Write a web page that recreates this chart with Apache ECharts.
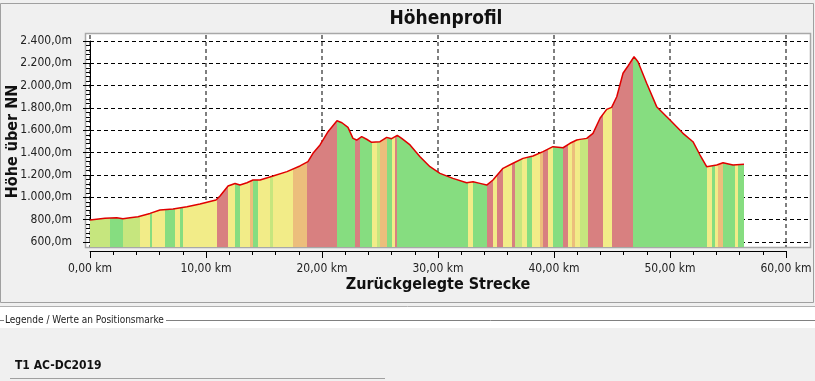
<!DOCTYPE html>
<html><head><meta charset="utf-8">
<script src="https://cdn.jsdelivr.net/npm/echarts@6/dist/echarts.min.js"></script>
<style>html,body{margin:0;padding:0;background:#f0f0f0;}#c{width:815px;height:381px;}</style>
</head><body><div id="c"></div>
<script>
// Distance along track (km) and elevation (m)
const distKm = [0.0,1.29,2.30,2.84,3.45,4.14,5.17,6.03,7.16,8.36,9.48,10.86,11.21,11.90,12.50,12.93,13.53,14.05,14.66,15.78,16.98,18.10,18.79,19.22,19.83,20.52,21.29,21.72,22.24,22.67,22.99,23.42,23.85,24.28,25.00,25.58,26.00,26.49,26.87,27.59,28.45,29.31,30.17,31.29,32.47,33.02,33.62,34.20,34.74,35.60,36.47,37.33,38.19,39.05,39.91,40.78,41.38,41.96,42.24,42.82,43.36,43.97,44.54,44.97,45.41,45.95,46.38,46.90,47.24,47.99,48.85,50.00,51.12,51.98,52.59,53.16,54.03,54.57,55.43,56.38];
const elevM = [797,812,818,809,818,827,856,887,896,916,940,976,1012,1101,1124,1110,1131,1155,1155,1191,1230,1281,1319,1394,1469,1588,1686,1668,1627,1528,1513,1543,1520,1493,1498,1537,1525,1555,1528,1469,1364,1274,1215,1170,1131,1140,1125,1110,1155,1260,1305,1349,1370,1409,1454,1444,1484,1513,1519,1528,1573,1708,1788,1806,1901,2111,2176,2259,2215,2021,1812,1693,1573,1498,1379,1274,1290,1310,1290,1296];

// Slope colour bands: boundaries (km) and class per interval
const bandBounds = [0,1.72,2.84,4.31,5.17,5.34,6.47,7.33,7.76,8.02,10.95,11.90,12.50,12.93,13.79,14.05,14.48,15.52,15.78,17.50,18.71,21.29,22.84,23.28,24.31,24.74,25.0,25.6,26.03,26.29,26.47,32.59,33.02,34.22,34.74,35.09,35.60,36.38,36.64,37.24,37.67,38.10,38.79,39.05,39.48,39.91,40.78,41.21,41.55,41.81,42.24,42.93,44.22,45.0,46.81,53.19,53.62,53.88,54.14,54.57,55.60,55.86,56.38];
const bandClass = ['L','G','L','Y','G','Y','G','Y','G','Y','R','Y','G','Y','O','G','Y','L','Y','O','R','G','R','G','Y','L','O','G','Y','R','G','Y','G','R','Y','R','Y','R','L','Y','G','Y','O','R','Y','G','R','Y','O','Y','L','R','Y','R','G','Y','G','Y','O','G','Y','G'];

// Tick labels
const xTickLabels = ['0,00 km','10,00 km','20,00 km','30,00 km','40,00 km','50,00 km','60,00 km'];
const yTickLabels = ['600,0m','800,0m','1.000,0m','1.200,0m','1.400,0m','1.600,0m','1.800,0m','2.000,0m','2.200,0m','2.400,0m'];

const classColor = {G:'#86dd80', L:'#c6e67e', Y:'#f2ec88', O:'#ecbe7c', R:'#d88080'};
const FONT = "'DejaVu Sans Condensed','DejaVu Sans',sans-serif";

const data = distKm.map((d,i)=>[d, elevM[i]]);
const pieces = bandClass.map((c,i)=>({gte: bandBounds[i], lt: bandBounds[i+1] + (i===bandClass.length-1?1:0), color: classColor[c]}));

// data grid extends 5px below 600 m and 6px above 2400 m (frame)
const mPerPx = 1800/201;
const yLo = 600 - 5*mPerPx, yHi = 2400 + 6*mPerPx;

const chart = echarts.init(document.getElementById('c'), null, {renderer:'canvas'});
chart.setOption({
  animation:false,
  backgroundColor:'#f0f0f0',
  title:{text:'Höhenprofil', left:441, top:5, textAlign:'center',
    textStyle:{fontFamily:FONT, fontWeight:'bold', fontSize:19, color:'#111'}},
  graphic:[
    {type:'rect', z:-10, shape:{x:0.5,y:3.5,width:813,height:299}, style:{fill:'#f0f0f0', stroke:'#a0a0a0', lineWidth:1}},
    {type:'line', z:-10, shape:{x1:0,y1:306.5,x2:815,y2:306.5}, style:{stroke:'#b0b0b0', lineWidth:1}},
    {type:'rect', z:-10, shape:{x:0,y:307,width:815,height:21}, style:{fill:'#ffffff'}},
    {type:'rect', z:-10, shape:{x:85.5,y:33.5,width:725,height:214}, style:{fill:'#ffffff', stroke:'#a8a8a8', lineWidth:1.5}},
    {type:'line', z:-9, shape:{x1:0,y1:320.5,x2:4,y2:320.5}, style:{stroke:'#808080', lineWidth:1}},
    {type:'text', z:-9, x:5, y:320, style:{text:'Legende / Werte an Positionsmarke', fontFamily:FONT, fontSize:10, fill:'#222', verticalAlign:'middle'}},
    {type:'line', z:-9, shape:{x1:166,y1:320.5,x2:815,y2:320.5}, style:{stroke:'#808080', lineWidth:1}},
    {type:'text', z:-9, x:15, y:366, style:{text:'T1 AC-DC2019', fontFamily:FONT, fontSize:12, fontWeight:'bold', fill:'#111', verticalAlign:'middle'}},
    {type:'line', z:-9, shape:{x1:10,y1:378.5,x2:385,y2:378.5}, style:{stroke:'#a0a0a0', lineWidth:1}}
  ],
  grid:[
    {left:90, right:29, top:35, bottom:134, containLabel:false, outerBoundsMode:'none'},
    {left:90, right:29, top:41, bottom:139, containLabel:false, outerBoundsMode:'none'},
    {left:90, right:5, top:41, bottom:139, containLabel:false, outerBoundsMode:'none'}
  ],
  xAxis:[
    {gridIndex:0, type:'value', min:0, max:60, interval:10,
      axisLine:{show:false}, axisTick:{show:false}, axisLabel:{show:false},
      splitLine:{show:true, lineStyle:{color:'#555', width:1.5, type:[4,3]}}},
    {gridIndex:1, type:'value', min:0, max:60, interval:10, offset:9,
      axisLine:{show:true, lineStyle:{color:'#000', width:1}},
      axisTick:{show:true, length:7, lineStyle:{color:'#000'}},
      minorTick:{show:true, splitNumber:5, length:4, lineStyle:{color:'#000'}},
      splitLine:{show:false},
      axisLabel:{margin:12, fontFamily:FONT, fontSize:12, color:'#222',
        formatter:(v)=>xTickLabels[Math.round(v/10)]},
      name:'Zurückgelegte Strecke', nameLocation:'middle', nameGap:26, nameMoveOverlap:false,
      nameTextStyle:{fontFamily:FONT, fontWeight:'bold', fontSize:16, color:'#111'}},
    {gridIndex:2, type:'value', min:0, max:1, show:false}
  ],
  yAxis:[
    {gridIndex:0, type:'value', min:yLo, max:yHi, show:false, splitLine:{show:false}},
    {gridIndex:1, type:'value', min:600, max:2400, interval:200, offset:8,
      axisLine:{show:true, lineStyle:{color:'#000', width:1}},
      axisTick:{show:true, length:7, lineStyle:{color:'#000'}},
      minorTick:{show:true, splitNumber:5, length:4, lineStyle:{color:'#000'}},
      splitLine:{show:false},
      axisLabel:{margin:10, fontFamily:FONT, fontSize:12, color:'#222',
        formatter:(v)=>yTickLabels[Math.round((v-600)/200)]},
      name:'Höhe über NN', nameLocation:'middle', nameGap:61, nameRotate:90, nameMoveOverlap:false,
      nameTextStyle:{fontFamily:FONT, fontWeight:'bold', fontSize:16, color:'#111'}},
    {gridIndex:2, type:'value', min:600, max:2400, interval:200,
      axisLine:{show:false}, axisTick:{show:false}, axisLabel:{show:false},
      splitLine:{show:true, lineStyle:{color:'#000', width:1, type:[4,3]}}}
  ],
  visualMap:{type:'piecewise', show:false, dimension:0, seriesIndex:0, pieces:pieces, outOfRange:{color:'#86dd80'}},
  series:[
    {type:'line', xAxisIndex:0, yAxisIndex:0, data:data, showSymbol:false, symbol:'none',
      lineStyle:{width:0}, areaStyle:{opacity:1, origin:'start'}, z:3},
    {type:'line', xAxisIndex:0, yAxisIndex:0, data:data, showSymbol:false, symbol:'none',
      lineStyle:{color:'#e00000', width:1.5}, z:4}
  ]
});
</script></body></html>
